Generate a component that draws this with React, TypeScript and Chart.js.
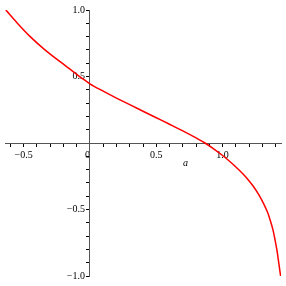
import React, { useEffect, useRef } from "react";
import { Chart, registerables } from "chart.js";

Chart.register(...registerables);

const xValues = [-0.634, -0.55, -0.45, -0.35, -0.25, -0.15, -0.05, 0, 0.1, 0.2, 0.3, 0.4, 0.5, 0.6, 0.7, 0.8, 0.867, 0.93, 1.0, 1.05, 1.1, 1.156, 1.2, 1.231, 1.27, 1.307, 1.34, 1.357, 1.38, 1.395, 1.41, 1.42, 1.437];
const yValues = [1.0, 0.905, 0.8, 0.71, 0.63, 0.555, 0.48, 0.445, 0.39, 0.338, 0.288, 0.239, 0.19, 0.141, 0.091, 0.038, 0.0, -0.042, -0.094, -0.135, -0.18, -0.235, -0.285, -0.325, -0.385, -0.452, -0.525, -0.575, -0.655, -0.728, -0.81, -0.879, -1.0];
const xLabels: Record<string, string> = { "-0.5": "\u22120.5", "0": "0  ", "0.5": "0.5", "1": "1.0" };
const yLabels: Record<string, string> = { "1": "1.0", "0.5": "0.5", "-0.5": "\u22120.5", "-1": "\u22121.0" };
const xTitle = "a";

function key(v: number): string {
  const r = Math.round(v * 10) / 10;
  return String(r === 0 ? 0 : r);
}

export default function App() {
  const ref = useRef<HTMLCanvasElement | null>(null);
  useEffect(() => {
    document.body.style.margin = "0";
    const font = { family: "'Liberation Serif', 'Times New Roman', serif", size: 10 };
    const titlePlugin = {
      id: "axisTitle",
      afterDraw(chart: any) {
        const ctx = chart.ctx;
        const xs = chart.scales.x;
        ctx.save();
        ctx.font = "italic 10px 'Liberation Serif', serif";
        ctx.fillStyle = "#000";
        ctx.textAlign = "center";
        ctx.textBaseline = "middle";
        ctx.fillText(xTitle, xs.getPixelForValue(0.72), chart.scales.y.getPixelForValue(-0.155));
        ctx.restore();
      },
    };
    const chart = new Chart(ref.current!, {
      type: "line",
      data: {
        datasets: [
          {
            data: xValues.map((x, i) => ({ x, y: yValues[i] })),
            borderColor: "#ff0000",
            borderWidth: 1.5,
            pointRadius: 0,
            cubicInterpolationMode: "monotone",
            fill: false,
          },
        ],
      },
      options: {
        animation: false,
        responsive: false,
        layout: { padding: { left: 5, right: 5, top: 10, bottom: 10 } },
        plugins: { legend: { display: false }, tooltip: { enabled: false } },
        scales: {
          x: {
            type: "linear",
            min: -0.64,
            max: 1.44,
            position: { y: 0 } as any,
            border: { display: true, color: "#555", width: 1 },
            grid: { display: true, drawOnChartArea: false, drawTicks: true, tickLength: 3, color: "#000" },
            ticks: {
              stepSize: 0.1,
              includeBounds: false,
              autoSkip: false,
              maxRotation: 0,
              padding: 3,
              color: "#000",
              font,
              callback: (v: any) => xLabels[key(Number(v))] ?? "",
            },
          },
          y: {
            type: "linear",
            min: -1,
            max: 1,
            position: { x: 0 } as any,
            border: { display: true, color: "#555", width: 1 },
            grid: { display: true, drawOnChartArea: false, drawTicks: true, tickLength: 3, color: "#000" },
            ticks: {
              stepSize: 0.1,
              includeBounds: false,
              autoSkip: false,
              padding: 3,
              color: "#000",
              font,
              callback: (v: any) => {
                const s = yLabels[key(Number(v))];
                return s ? s + "  " : "";
              },
            },
          },
        },
      } as any,
      plugins: [titlePlugin],
    });
    return () => chart.destroy();
  }, []);
  return (
    <div style={{ width: 286, height: 286 }}>
      <canvas ref={ref} width={286} height={286} style={{ display: "block" }} />
    </div>
  );
}
